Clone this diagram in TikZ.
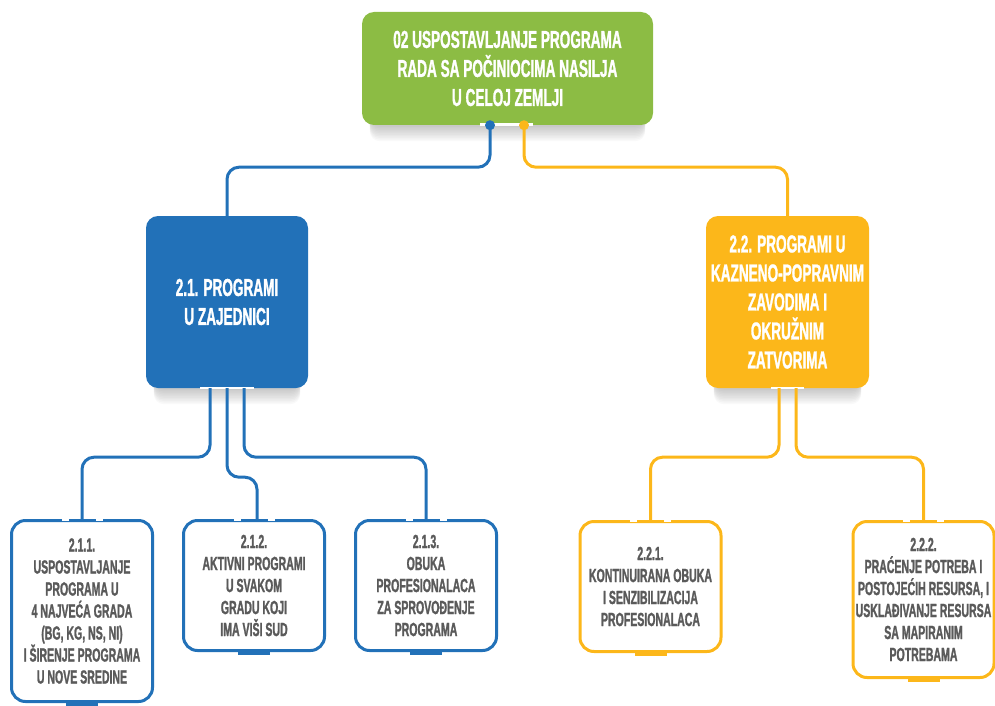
\documentclass[tikz,border=0pt]{standalone}
\usepackage{fontspec}
\newfontfamily\cond{Liberation Sans Bold}[FakeStretch=0.555,FakeBold=1.2]
\usetikzlibrary{calc}
\definecolor{tgreen}{HTML}{8CBC44}
\definecolor{tblue}{HTML}{2271B8}
\definecolor{torange}{HTML}{FCB71A}
\definecolor{tgrey}{HTML}{5A5A5A}
\pgfdeclarelayer{shadowlayer}
\pgfsetlayers{shadowlayer,main}
\newcommand\softshade[1]{%
  \foreach \k in {1,...,10}{%
    \fill[black,opacity=0.022,rounded corners=10pt]
      ([xshift=8pt,yshift={-1.6*\k pt}]#1.south west) rectangle ([xshift=-8pt,yshift=30pt]#1.south east);}}
\begin{document}
\begin{tikzpicture}[x=1pt,y=-1pt,
  headbox/.style={rounded corners=12pt, text=white, inner sep=0pt, align=center,
    font=\cond\fontsize{24.5}{29}\selectfont},
  leafbox/.style={draw=#1, line width=3pt, fill=white, rounded corners=14pt, text=tgrey,
    inner sep=0pt, align=center, minimum width=141pt,
    font=\cond\fontsize{19}{22}\selectfont},
  link/.style={line width=3pt, rounded corners=12pt}]
\useasboundingbox (0,0) rectangle (995,706);

% head boxes
\node[headbox, fill=tgreen, minimum width=291pt, minimum height=113pt] (top) at (507.5,68.5)
  {02 USPOSTAVLJANJE PROGRAMA\\RADA SA POČINIOCIMA NASILJA\\U CELOJ ZEMLJI};
\node[headbox, fill=tblue, minimum width=162pt, minimum height=172pt] (blue) at (227,302)
  {2.1. PROGRAMI\\U ZAJEDNICI};
\node[headbox, fill=torange, minimum width=163pt, minimum height=172pt] (orange) at (787.5,302)
  {2.2. PROGRAMI U\\KAZNENO-POPRAVNIM\\ZAVODIMA I\\OKRUŽNIM\\ZATVORIMA};

% leaf boxes
\node[leafbox=tblue, minimum height=181pt] (b211) at (82,611)
  {2.1.1.\\USPOSTAVLJANJE\\PROGRAMA U\\4 NAJVEĆA GRADA\\(BG, KG, NS, NI)\\I ŠIRENJE PROGRAMA\\U NOVE SREDINE};
\node[leafbox=tblue, minimum height=130pt] (b212) at (254,585.5)
  {2.1.2.\\AKTIVNI PROGRAMI\\U SVAKOM\\GRADU KOJI\\IMA VIŠI SUD};
\node[leafbox=tblue, minimum height=130pt] (b213) at (426,585.5)
  {2.1.3.\\OBUKA\\PROFESIONALACA\\ZA SPROVOĐENJE\\PROGRAMA};
\node[leafbox=torange, minimum height=130pt] (b221) at (650.5,586.5)
  {2.2.1.\\KONTINUIRANA OBUKA\\I SENZIBILIZACIJA\\PROFESIONALACA};
\node[leafbox=torange, minimum height=156pt] (b222) at (923.5,599.5)
  {2.2.2.\\PRAĆENJE POTREBA I\\POSTOJEĆIH RESURSA, I\\USKLAĐIVANJE RESURSA\\SA MAPIRANIM\\POTREBAMA};

% small notches where connectors leave the head boxes
\fill[white] (480,123) rectangle (533,126);
\fill[white] (200,386.5) rectangle (254,389);
\fill[white] (771,386.5) rectangle (804,389);

\begin{pgfonlayer}{shadowlayer}
  \softshade{top}
  \softshade{blue}
  \softshade{orange}
\end{pgfonlayer}

% connectors
\draw[link, tblue] ([xshift=-17.5pt]top.south) -- ++(0,42) -| (blue.north);
\draw[link, torange] ([xshift=16.5pt]top.south) -- ++(0,42) -| (orange.north);
\draw[link, tblue] ([xshift=-17pt]blue.south) -- ++(0,69) -| (b211.north);
\draw[link, tblue] (blue.south) -- ++(0,89) -| ([xshift=3pt]b212.north);
\draw[link, tblue] ([xshift=17pt]blue.south) -- ++(0,69) -| (b213.north);
\draw[link, torange] ([xshift=-8.5pt]orange.south) -- ++(0,69) -| (b221.north);
\draw[link, torange] ([xshift=8.5pt]orange.south) -- ++(0,69) -| (b222.north);

% leaf box details: gaps on top border, tab on bottom border
\foreach \n/\c in {b211/tblue,b212/tblue,b213/tblue,b221/torange,b222/torange}{
  \draw[white, line width=4pt] ([xshift=-20.5pt]\n.north) -- ([xshift=-13.5pt]\n.north);
  \draw[white, line width=4pt] ([xshift=13.5pt]\n.north) -- ([xshift=20.5pt]\n.north);
  \draw[\c, line width=4.5pt] ([xshift=-16pt,yshift=-0.8pt]\n.south) -- ([xshift=16pt,yshift=-0.8pt]\n.south);
}

% connector dots on the top box
\fill[tblue] ([xshift=-17.5pt]top.south) circle (5pt);
\fill[torange] ([xshift=16.5pt]top.south) circle (5pt);
\end{tikzpicture}
\end{document}
